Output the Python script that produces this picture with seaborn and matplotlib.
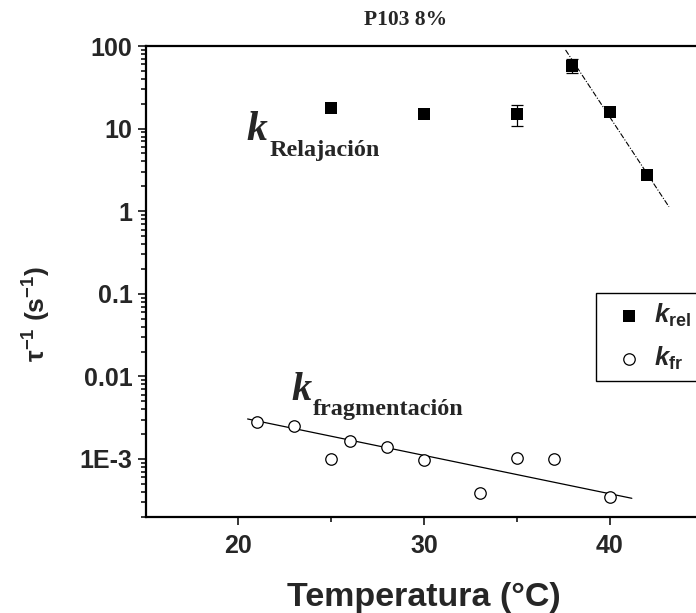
import matplotlib
matplotlib.use("Agg")
import numpy as np
import seaborn as sns

from matplotlib import pyplot as plt
from matplotlib.ticker import FixedLocator, FixedFormatter, LogLocator, NullFormatter

# relaxation rate (filled squares)
rel_temp = [25, 30, 35, 38, 40, 42]
rel_k = [17.6, 14.9, 14.9, 57.7, 15.7, 2.72]
rel_err_temp = [35, 38]
rel_err_k = [14.9, 57.7]
rel_err_low = [4.1, 11.0]
rel_err_high = [4.4, 11.0]

# fragmentation rate (open circles)
fr_temp = [21, 23, 25, 26, 28, 30, 33, 35, 37, 40]
fr_k = [2.83e-3, 2.53e-3, 9.9e-4, 1.65e-3, 1.39e-3, 9.7e-4, 3.85e-4, 1.02e-3, 9.9e-4, 3.5e-4]

# fitted lines, end points
rel_fit_temp = [37.63, 43.2]
rel_fit_k = [89.5, 1.13]
fr_fit_temp = [20.5, 41.2]
fr_fit_k = [3.05e-3, 3.34e-4]

x_ticks = [20, 30, 40]
x_minor_ticks = [25, 35]
y_ticks = [1e-3, 1e-2, 1e-1, 1, 10, 100]
y_tick_labels = ["1E-3", "0.01", "0.1", "1", "10", "100"]

sns.set_style("ticks")
plt.rcParams['font.family'] = ['Liberation Sans', 'DejaVu Sans']
plt.rcParams['font.weight'] = 'bold'
plt.rcParams['mathtext.fontset'] = 'custom'
plt.rcParams['mathtext.rm'] = 'Liberation Sans:bold'
plt.rcParams['mathtext.bf'] = 'Liberation Sans:bold'
plt.rcParams['mathtext.it'] = 'Liberation Sans:italic:bold'
plt.rcParams['mathtext.bfit'] = 'Liberation Sans:italic:bold'

W, H = 696, 613
fig = plt.figure(figsize=(W / 100, H / 100), dpi=100)
ax = fig.add_axes([145.5 / W, 96.3 / H, 594 / W, 470.7 / H])

# fit lines
sns.lineplot(x=rel_fit_temp, y=rel_fit_k, color='black', lw=0.8,
             linestyle=(0, (5, 1.5, 1, 1.5)), ax=ax)
sns.lineplot(x=fr_fit_temp, y=fr_fit_k, color='black', lw=0.9, ax=ax)

# error bars for relaxation points
ax.errorbar(rel_err_temp, rel_err_k, yerr=[rel_err_low, rel_err_high],
            fmt='none', ecolor='black', elinewidth=0.9, capsize=4.5, capthick=0.9, zorder=2)

# data points
sns.scatterplot(x=rel_temp, y=rel_k, marker='s', s=82, color='black',
                edgecolor='black', linewidth=0, ax=ax, zorder=3,
                label=r'$\mathbfit{k}_{\mathbf{rel}}$')
sns.scatterplot(x=fr_temp, y=fr_k, marker='o', s=68, facecolor='white',
                edgecolor='black', linewidth=0.9, ax=ax, zorder=3,
                label=r'$\mathbfit{k}_{\mathbf{fr}}$')

ax.set_yscale('log')
ax.set_xlim(15, 47)
ax.set_ylim(2e-4, 100)

ax.xaxis.set_major_locator(FixedLocator(x_ticks))
ax.xaxis.set_minor_locator(FixedLocator(x_minor_ticks))
ax.yaxis.set_major_locator(FixedLocator(y_ticks))
ax.yaxis.set_major_formatter(FixedFormatter(y_tick_labels))
ax.yaxis.set_minor_locator(LogLocator(base=10, subs=np.arange(2, 10)))
ax.yaxis.set_minor_formatter(NullFormatter())

ax.tick_params(axis='both', which='major', direction='out', length=6, width=1.1,
               labelsize=18, top=False, right=False, color='black')
ax.tick_params(axis='both', which='minor', direction='out', length=3.4, width=1.1,
               top=False, right=False, color='black')
ax.tick_params(axis='x', which='major', pad=6.5)
ax.tick_params(axis='y', which='major', pad=3.4)

for side in ['left', 'bottom', 'top', 'right']:
    ax.spines[side].set_linewidth(1.6)
    ax.spines[side].set_color('black')

ax.set_xlabel('Temperatura (°C)', fontsize=24.5, fontweight='bold', va='center')
ax.xaxis.set_label_coords(0.468, -0.1727)
ax.set_ylabel(r'τ$^{\mathbf{-1}}$ (s$^{\mathbf{-1}}$)', fontsize=19, fontweight='bold',
              va='center')
ax.yaxis.set_label_coords(-0.1827, 0.431)

# title
fig.text(405.5 / W, 1 - 25 / H, 'P103 8%', ha='center', va='baseline',
         family='Liberation Serif', fontweight='bold', fontsize=15.5)

# curve annotations
ax.text(20.45, 7.28, 'k', family='Liberation Serif', style='italic',
        fontweight='bold', fontsize=30, ha='left', va='baseline')
ax.text(21.7, 4.66, 'Relajación', family='Liberation Serif',
        fontweight='bold', fontsize=17.5, ha='left', va='baseline')
ax.text(22.87, 5.18e-3, 'k', family='Liberation Serif', style='italic',
        fontweight='bold', fontsize=29, ha='left', va='baseline')
ax.text(24.0, 3.41e-3, 'fragmentación', family='Liberation Serif',
        fontweight='bold', fontsize=17.5, ha='left', va='baseline')

handles, labels = ax.get_legend_handles_labels()
leg = ax.legend(handles, labels, loc='upper left',
                bbox_to_anchor=(0.758, 0.287, 0.3, 0.189), mode='expand',
                borderaxespad=0, borderpad=0.36, handlelength=1.85,
                handletextpad=0.05, labelspacing=0.6, fontsize=18.5,
                fancybox=False, framealpha=1, scatterpoints=1)
leg.get_frame().set_edgecolor('black')
leg.get_frame().set_linewidth(1.0)

fig.savefig('out.png', dpi=100)
